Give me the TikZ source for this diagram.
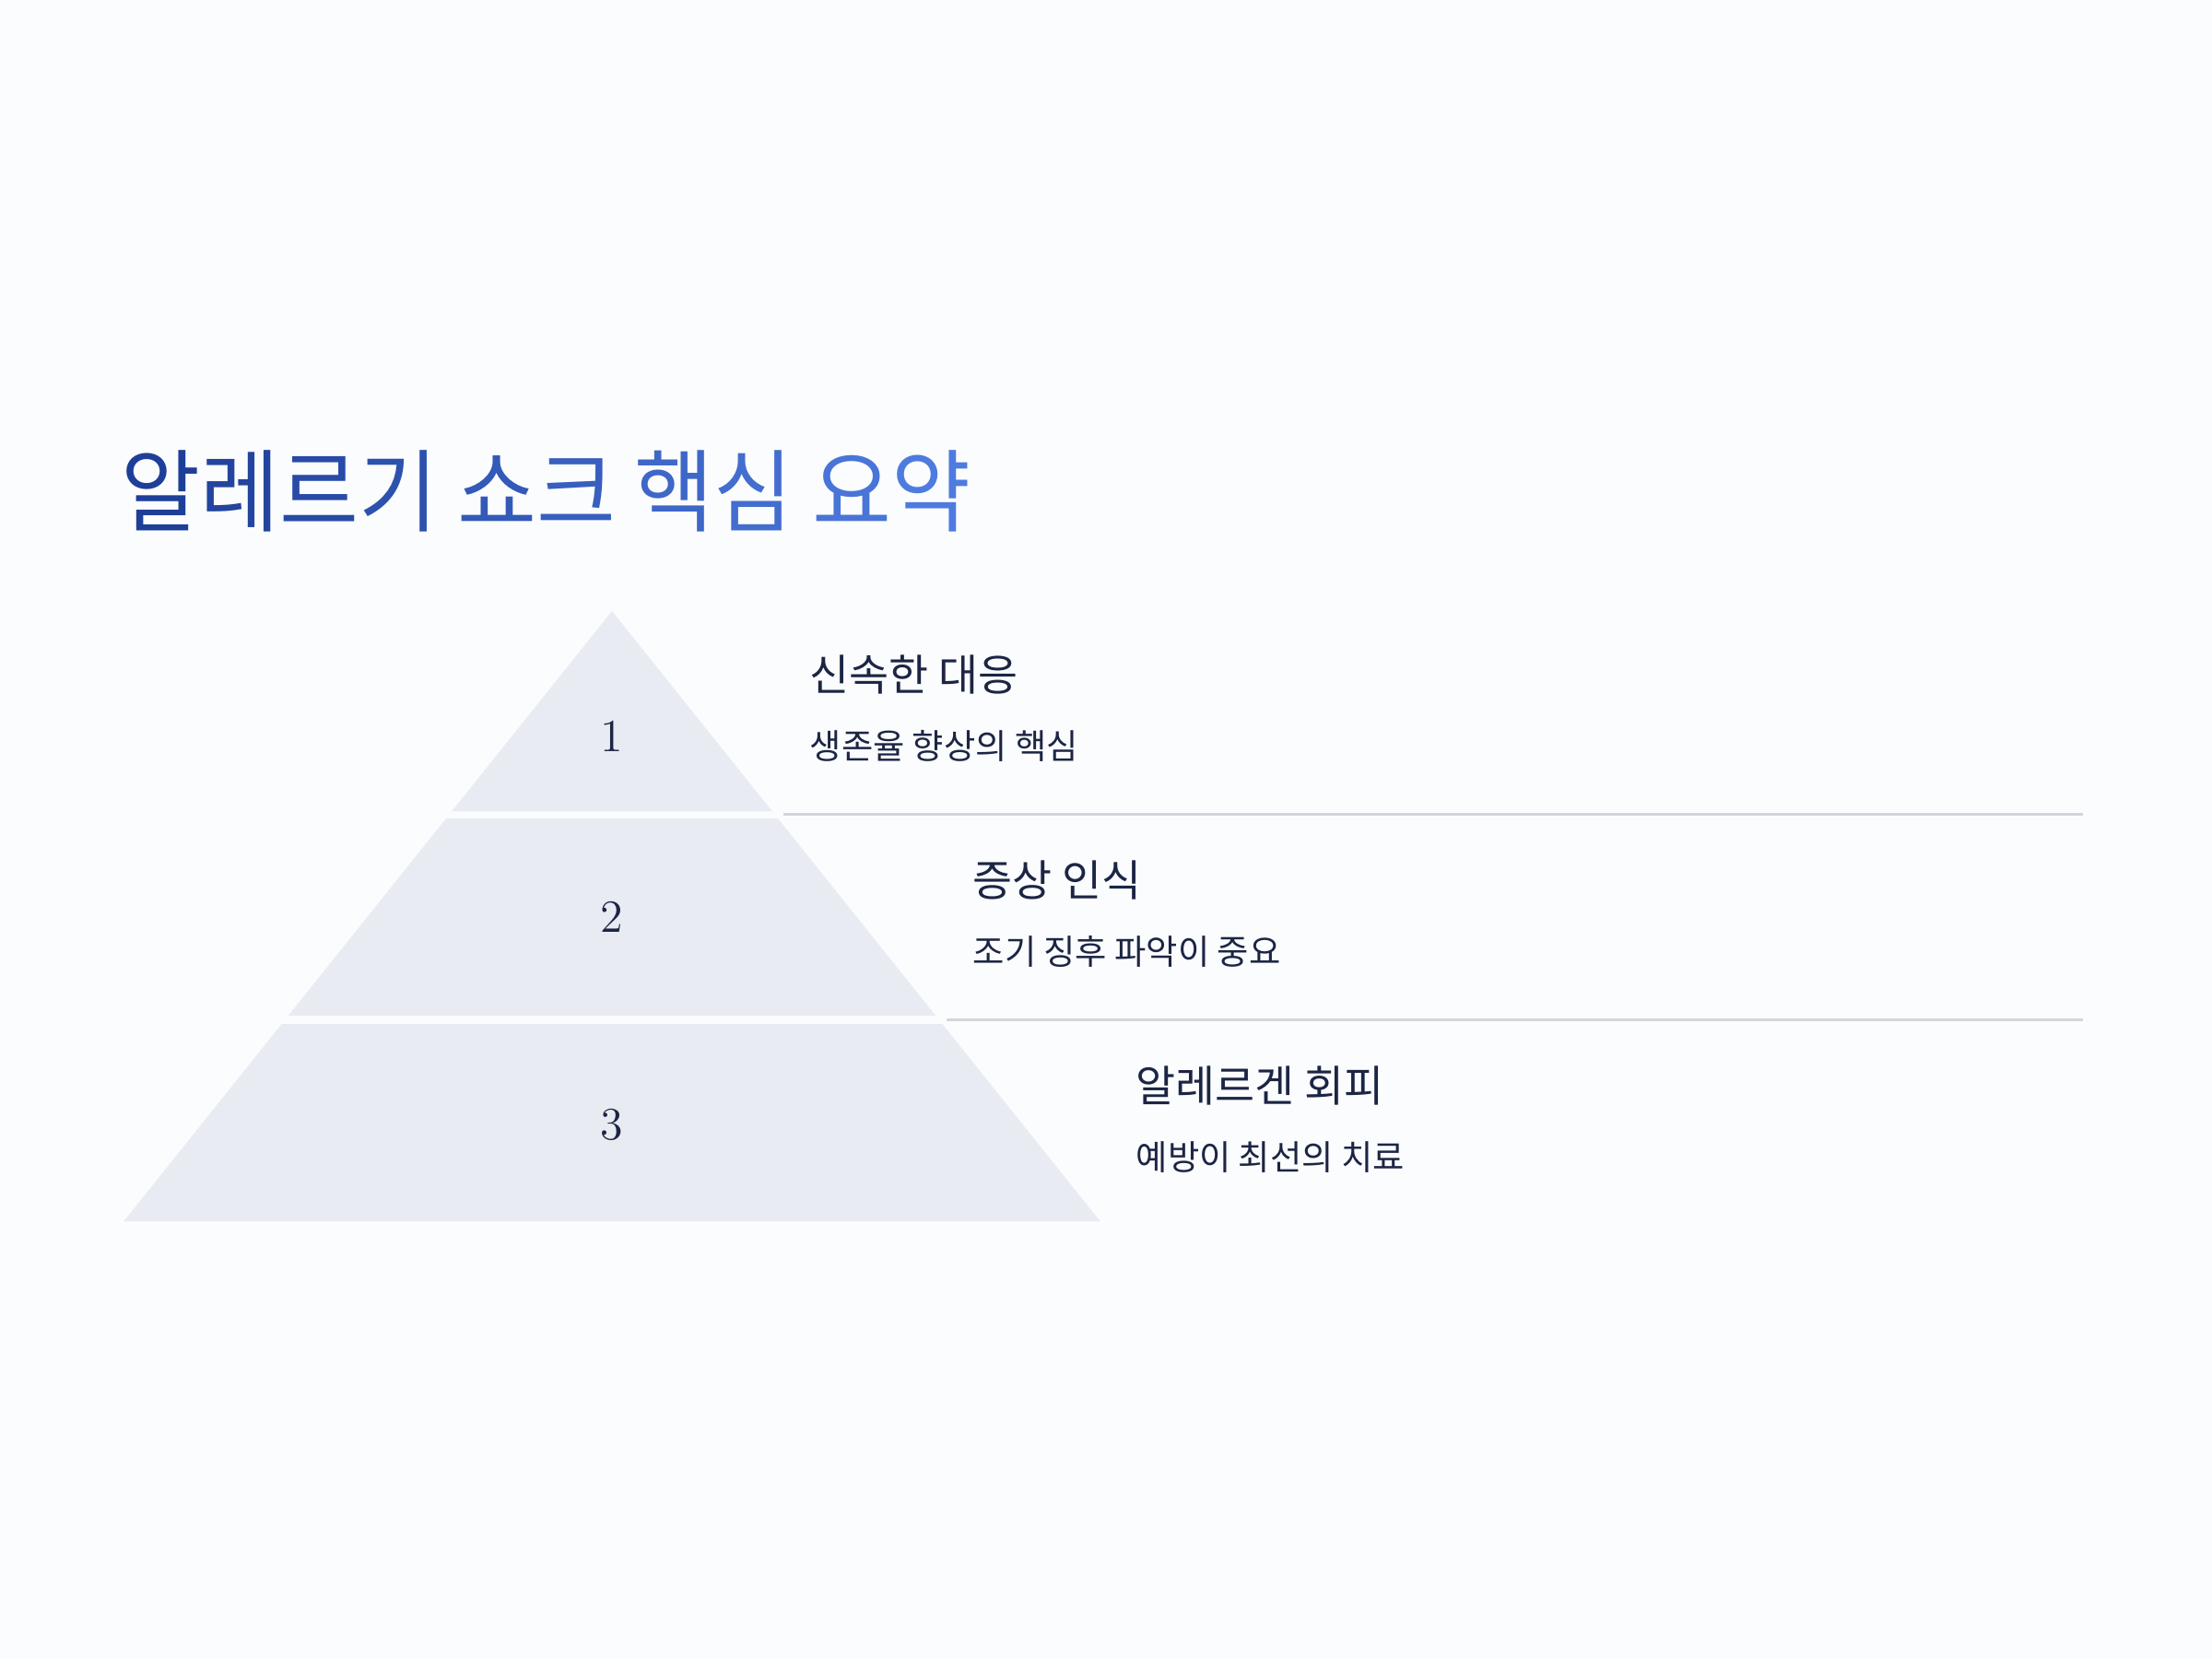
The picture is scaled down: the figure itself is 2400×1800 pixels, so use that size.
\documentclass[tikz,border=0pt]{standalone}
\usepackage{fontspec}
\newfontfamily\krfont{Noto Sans CJK KR}
\newfontfamily\krtitlefont[FakeStretch=0.955]{Noto Sans CJK KR}
\usetikzlibrary{positioning}
\definecolor{pagebg}{HTML}{FBFCFD}
\definecolor{bandfill}{HTML}{E8EBF2}
\definecolor{rulegray}{HTML}{D2D5DC}
\definecolor{inkdark}{HTML}{1C2544}
\definecolor{titleA}{HTML}{1E3F98}
\definecolor{titleB}{HTML}{4E7BE0}
\tikzset{
  band/.style={fill=bandfill},
  rowrule/.style={draw=rulegray, line width=0.85pt},
  heading/.style={anchor=base west, inner sep=0pt, text=inkdark, font=\krfont\fontsize{13.3}{16}\selectfont},
  subline/.style={anchor=base west, inner sep=0pt, text=inkdark, font=\krfont\fontsize{10.6}{13}\selectfont},
  numlabel/.style={text=inkdark, font=\fontsize{14.2}{17}\selectfont}
}
\newcommand\tch[2]{\textcolor{titleB!#1!titleA}{#2}}

\begin{document}
\begin{tikzpicture}[x=0.01cm, y=-0.01cm]
    \fill[pagebg] (0,0) rectangle (2400,1800);
    \useasboundingbox (0,0) rectangle (2400,1800);
    % title
    \node[anchor=base west, inner sep=0pt, font=\krtitlefont\fontsize{27.8}{33}\selectfont] (title) at (131,569)
        {\tch{0}{알}\tch{10}{레}\tch{20}{르}\tch{31}{기} \tch{44}{쇼}\tch{54}{크} \tch{67}{핵}\tch{77}{심} \tch{90}{요}\tch{100}{약}};
    % pyramid bands
    \foreach \t/\b in {663/880, 888/1102, 1111/1325}
        \fill[band] ({664-(\t-663)*0.8},\t) -- ({664+(\t-663)*0.8},\t) -- ({664+(\b-663)*0.8},\b) -- ({664-(\b-663)*0.8},\b) -- cycle;
    \foreach \i/\y in {1/799, 2/995, 3/1220}
        \node[numlabel] (num\i) at (664,\y) {\i};
    % rows of text
    \foreach \i/\head/\sub in {1/신속한 대응/생존율 향상의 핵심, 2/증상 인식/조기 징후 파악이 중요, 3/알레르겐 회피/예방이 최선의 치료}
    {
        \node[heading] (head\i) at ({878+177*(\i-1)},{749+223*(\i-1)}) {\head};
        \node[subline] (sub\i) at ({878+177*(\i-1)},{823+223*(\i-1)}) {\sub};
    }
    \foreach \i in {1,2}
    {
        \coordinate (ruleL\i) at ({850+177*(\i-1)},{883+223*(\i-1)});
        \coordinate (ruleR\i) at (2260,{883+223*(\i-1)});
        \draw[rowrule] (ruleL\i) -- (ruleR\i);
    }
\end{tikzpicture}
\end{document}
